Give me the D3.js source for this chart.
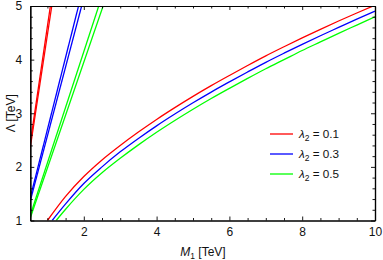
<!DOCTYPE html>
<html><head><meta charset="utf-8">
<script src="https://cdn.jsdelivr.net/npm/d3@7"></script>
<style>
html,body{margin:0;padding:0;background:#fff;}
svg{display:block;font-family:"Liberation Sans",Arial,sans-serif;}
</style></head>
<body>
<svg id="c" width="383" height="260"></svg>
<script>
// ---- data ----
const xTicks = [2, 4, 6, 8, 10];
const yTicks = [1, 2, 3, 4, 5];
const legendLabels = ["0.1", "0.3", "0.5"];
const colors = ["#ff0000", "#0000ff", "#00ff00"];

// steep boundary pairs (M1, Lambda) – straight lines from origin
const redSteepA = [[0, 0], [1.082, 5]];
const redSteepB = [[0, 0], [1.12, 5]];
const blueSteepA = [[0, 0], [1.855, 5]];
const blueSteepB = [[0, 0], [1.94, 5]];
const greenSteepA = [[0, 0], [2.41, 5]];
const greenSteepB = [[0, 0], [2.53, 5]];

// lower-right boundary curves (M1, Lambda)
const redCurve = [[1.0,1.0],[1.5,1.45],[2,1.82],[2.5,2.13],[3,2.40],[3.5,2.65],[4,2.885],[4.5,3.105],[5,3.315],
  [5.5,3.515],[6,3.705],[6.5,3.89],[7,4.07],[7.5,4.24],[8,4.405],[8.5,4.565],[9,4.72],[9.5,4.87],[10,5.015]];
const blueCurve = [[1.13,1.0],[1.5,1.31],[2,1.69],[2.5,2.0],[3,2.28],[3.5,2.53],[4,2.765],[4.5,2.985],[5,3.195],
  [5.5,3.395],[6,3.585],[6.5,3.77],[7,3.95],[7.5,4.12],[8,4.285],[8.5,4.445],[9,4.6],[9.5,4.755],[10,4.905]];
const greenCurve = [[1.24,1.0],[1.5,1.21],[2,1.58],[2.5,1.89],[3,2.16],[3.5,2.41],[4,2.645],[4.5,2.865],[5,3.075],
  [5.5,3.275],[6,3.465],[6.5,3.65],[7,3.83],[7.5,4.0],[8,4.17],[8.5,4.33],[9,4.49],[9.5,4.645],[10,4.8]];

// ---- layout ----
const svg = d3.select("#c");
const L = 30.3, R = 375, T = 6, B = 220.5;
const x = d3.scaleLinear().domain([0.53, 10]).range([L, R]);
const y = d3.scaleLinear().domain([1, 5]).range([B, T]);

svg.append("clipPath").attr("id","clip").append("rect")
  .attr("x", L).attr("y", T).attr("width", R-L).attr("height", B-T);

const line = d3.line().x(d => x(d[0])).y(d => y(d[1]));
const curveLine = d3.line().x(d => x(d[0])).y(d => y(d[1])).curve(d3.curveMonotoneX);

const g = svg.append("g").attr("clip-path","url(#clip)");
const steep = [[redSteepA,0],[redSteepB,0],[blueSteepA,1],[blueSteepB,1],[greenSteepA,2],[greenSteepB,2]];
steep.forEach(([d,i]) => g.append("path").attr("d", line(d)).attr("fill","none")
  .attr("stroke", colors[i]).attr("stroke-width", 1.3));
[[redCurve,0],[blueCurve,1],[greenCurve,2]].forEach(([d,i]) => g.append("path").attr("d", curveLine(d))
  .attr("fill","none").attr("stroke", colors[i]).attr("stroke-width", 1.3));

// ---- axes (frame with inward ticks) ----
const xMinor = d3.range(1, 10.01, 0.5).filter(v => xTicks.indexOf(v) < 0);
const yMinor = d3.range(1, 5.001, 0.2).map(v => +v.toFixed(1)).filter(v => yTicks.indexOf(v) < 0);

svg.append("g").attr("transform", `translate(0,${B})`)
  .call(d3.axisBottom(x).tickValues(xTicks).tickSizeInner(-4).tickSizeOuter(0).tickPadding(7).tickFormat(d3.format("d")));
svg.append("g").attr("transform", `translate(0,${B})`)
  .call(d3.axisBottom(x).tickValues(xMinor).tickSizeInner(-2.5).tickSizeOuter(0).tickFormat(""));
svg.append("g").attr("transform", `translate(0,${T})`)
  .call(d3.axisTop(x).tickValues(xTicks).tickSizeInner(-4).tickSizeOuter(0).tickFormat(""));
svg.append("g").attr("transform", `translate(0,${T})`)
  .call(d3.axisTop(x).tickValues(xMinor).tickSizeInner(-2.5).tickSizeOuter(0).tickFormat(""));
svg.append("g").attr("transform", `translate(${L},0)`)
  .call(d3.axisLeft(y).tickValues(yTicks).tickSizeInner(-4).tickSizeOuter(0).tickPadding(8).tickFormat(d3.format("d")));
svg.append("g").attr("transform", `translate(${L},0)`)
  .call(d3.axisLeft(y).tickValues(yMinor).tickSizeInner(-2.5).tickSizeOuter(0).tickFormat(""));
svg.append("g").attr("transform", `translate(${R},0)`)
  .call(d3.axisRight(y).tickValues(yTicks).tickSizeInner(-4).tickSizeOuter(0).tickFormat(""));
svg.append("g").attr("transform", `translate(${R},0)`)
  .call(d3.axisRight(y).tickValues(yMinor).tickSizeInner(-2.5).tickSizeOuter(0).tickFormat(""));

svg.selectAll(".domain").attr("stroke","#000").attr("stroke-width",1.2);
svg.selectAll(".tick line").attr("stroke","#000").attr("stroke-width",0.9);
svg.selectAll(".tick text").attr("font-size","12px").attr("fill","#111")
  .attr("font-family","\"Liberation Sans\",Arial,sans-serif");

// axis titles
const xl = svg.append("text").attr("x", 203).attr("y", 256).attr("text-anchor","middle")
  .attr("font-size","12px").attr("fill","#111");
xl.append("tspan").attr("font-style","italic").text("M");
xl.append("tspan").attr("font-size","8.5px").attr("dy", 3).text("1");
xl.append("tspan").attr("dy", -3).text(" [TeV]");

svg.append("text").attr("transform", `translate(15,${(T+B)/2}) rotate(-90)`)
  .attr("text-anchor","middle").attr("font-size","12px").attr("fill","#111").text("Λ [TeV]");

// legend
const lg = svg.append("g");
legendLabels.forEach((lab, i) => {
  const yy = 134 + i * 20;
  lg.append("line").attr("x1", 270).attr("x2", 293).attr("y1", yy).attr("y2", yy)
    .attr("stroke", colors[i]).attr("stroke-width", 1.3);
  const t = lg.append("text").attr("x", 299).attr("y", yy + 4).attr("font-size","11.7px").attr("fill","#111");
  t.append("tspan").attr("font-style","italic").text("λ");
  t.append("tspan").attr("font-size","8.5px").attr("dy", 3).text("2");
  t.append("tspan").attr("dy", -3).text(" = " + lab);
});
</script>
</body></html>
